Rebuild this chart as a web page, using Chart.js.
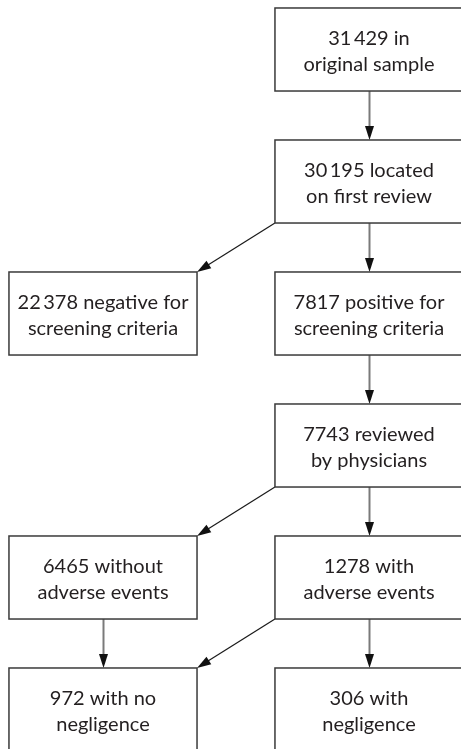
<!DOCTYPE html>
<html>
<head>
<meta charset="utf-8">
<script src="https://cdn.jsdelivr.net/npm/chart.js@4"></script>
<style>
html,body{margin:0;padding:0;background:#fff;}
#wrap{width:461px;height:749px;position:relative;}
</style>
</head>
<body>
<div id="wrap"><canvas id="c"></canvas></div>
<script>
// Flowchart content
const nodeLine1 = ["31\u2009429 in", "30\u2009195 located", "22\u2009378 negative for", "7817 positive for", "7743 reviewed", "6465 without", "1278 with", "972 with no", "306 with"];
const nodeLine2 = ["original sample", "on first review", "screening criteria", "screening criteria", "by physicians", "adverse events", "adverse events", "negligence", "negligence"];
const nodeColumn = [1, 1, 0, 1, 1, 0, 1, 0, 1];
const nodeRow = [0, 1, 2, 2, 3, 4, 4, 5, 5];
const edgeFrom = [0, 1, 1, 3, 4, 4, 5, 6, 6];
const edgeTo = [1, 2, 3, 4, 5, 6, 7, 7, 8];

const BOX_W = 0.707;   // in column units
const BOX_H = 0.629;   // in row units
const FONT = '20px Lato, "Open Sans", sans-serif';

function arrowHead(ctx, x1, y1, x2, y2, len, half) {
  const a = Math.atan2(y2 - y1, x2 - x1);
  ctx.beginPath();
  ctx.moveTo(x2, y2);
  ctx.lineTo(x2 - len * Math.cos(a) + half * Math.sin(a), y2 - len * Math.sin(a) - half * Math.cos(a));
  ctx.lineTo(x2 - len * Math.cos(a) - half * Math.sin(a), y2 - len * Math.sin(a) + half * Math.cos(a));
  ctx.closePath();
  ctx.fillStyle = '#111';
  ctx.fill();
}

const flowPlugin = {
  id: 'flow',
  afterDraw(chart) {
    const ctx = chart.ctx;
    const xs = chart.scales.x, ys = chart.scales.y;
    const box = i => {
      const l = xs.getPixelForValue(nodeColumn[i] - BOX_W / 2);
      const r = xs.getPixelForValue(nodeColumn[i] + BOX_W / 2);
      const t = ys.getPixelForValue(nodeRow[i] - BOX_H / 2);
      const b = ys.getPixelForValue(nodeRow[i] + BOX_H / 2);
      return {l, r, t, b, cx: (l + r) / 2, cy: (t + b) / 2};
    };
    ctx.save();
    // edges
    for (let k = 0; k < edgeFrom.length; k++) {
      const s = box(edgeFrom[k]), d = box(edgeTo[k]);
      if (nodeColumn[edgeFrom[k]] === nodeColumn[edgeTo[k]]) {
        const x = Math.round(s.cx) + 0.5;
        ctx.beginPath();
        ctx.moveTo(x, s.b);
        ctx.lineTo(x, d.t - 8);
        ctx.strokeStyle = '#7a7a7a';
        ctx.lineWidth = 2;
        ctx.stroke();
        arrowHead(ctx, x, s.b, x, d.t, 14, 4.5);
      } else {
        const x1 = s.l, y1 = s.b, x2 = d.r, y2 = d.t;
        ctx.beginPath();
        ctx.moveTo(x1, y1);
        ctx.lineTo(x2 + (x1 - x2) * 0.1, y2 + (y1 - y2) * 0.1);
        ctx.strokeStyle = '#1a1a1a';
        ctx.lineWidth = 1.2;
        ctx.stroke();
        arrowHead(ctx, x1, y1, x2, y2, 14, 4.5);
      }
    }
    // boxes
    for (let i = 0; i < nodeLine1.length; i++) {
      const b = box(i);
      ctx.fillStyle = '#fff';
      ctx.fillRect(b.l, b.t, b.r - b.l, b.b - b.t);
      ctx.strokeStyle = '#3a3a3a';
      ctx.lineWidth = 1.5;
      ctx.strokeRect(b.l, b.t, b.r - b.l, b.b - b.t);
      ctx.fillStyle = '#231f20';
      ctx.font = FONT;
      ctx.textAlign = 'center';
      ctx.textBaseline = 'middle';
      ctx.fillText(nodeLine1[i], b.cx, b.cy - 11);
      ctx.fillText(nodeLine2[i], b.cx, b.cy + 15);
    }
    ctx.restore();
  }
};

new Chart(document.getElementById('c'), {
  type: 'scatter',
  data: {
    datasets: [{
      data: nodeColumn.map((c, i) => ({x: c, y: nodeRow[i]})),
      pointRadius: 0,
      showLine: false
    }]
  },
  options: {
    responsive: true,
    maintainAspectRatio: false,
    animation: false,
    events: [],
    layout: {padding: 0},
    plugins: {legend: {display: false}, tooltip: {enabled: false}},
    scales: {
      x: {type: 'linear', min: -0.3872, max: 1.3459, display: false},
      y: {type: 'linear', reverse: true, min: -0.375, max: 5.2992, display: false}
    }
  },
  plugins: [flowPlugin]
});
</script>
</body>
</html>
